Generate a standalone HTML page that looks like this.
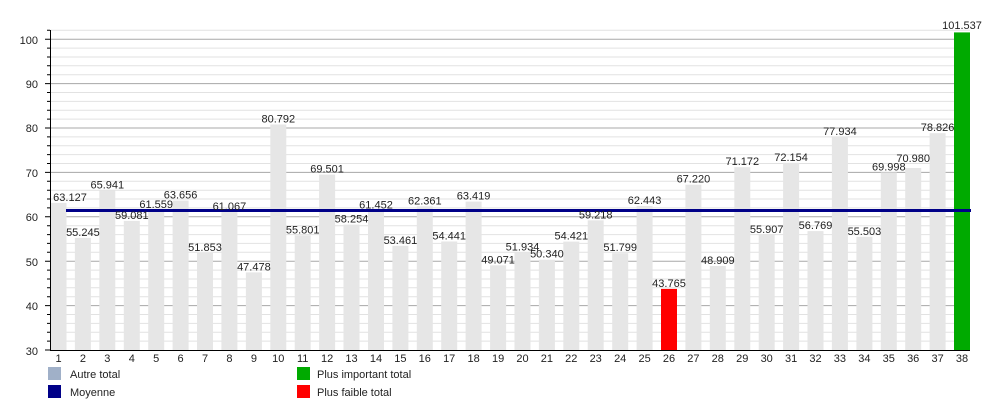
<!DOCTYPE html>
<html><head><meta charset="utf-8"><style>
html,body{margin:0;padding:0;background:#fff}
svg{display:block;font-family:"Liberation Sans",sans-serif}
</style></head><body>
<svg width="1000" height="400" viewBox="0 0 1000 400" xmlns="http://www.w3.org/2000/svg">
<g stroke="#e2e2e2" stroke-width="1" fill="none">
<path d="M50 341.1H970M50 332.2H970M50 323.4H970M50 314.5H970M50 296.7H970M50 287.8H970M50 279H970M50 270.1H970M50 252.3H970M50 243.4H970M50 234.6H970M50 225.7H970M50 207.9H970M50 199H970M50 190.2H970M50 181.3H970M50 163.5H970M50 154.6H970M50 145.8H970M50 136.9H970M50 119.1H970M50 110.2H970M50 101.4H970M50 92.5H970M50 74.7H970M50 65.8H970M50 57H970M50 48.1H970M50 30.3H970"/>
</g>
<g stroke="#a8a8a8" stroke-width="1" fill="none">
<path d="M50 305.6H970M50 261.2H970M50 216.8H970M50 172.4H970M50 128H970M50 83.6H970M50 39.2H970"/>
</g>
<g fill="#e6e6e6">
<rect x="50.5" y="202.9" width="16" height="147.1"/>
<rect x="74.9" y="237.9" width="16" height="112.1"/>
<rect x="99.3" y="190.4" width="16" height="159.6"/>
<rect x="123.8" y="220.9" width="16" height="129.1"/>
<rect x="148.2" y="209.9" width="16" height="140.1"/>
<rect x="172.6" y="200.6" width="16" height="149.4"/>
<rect x="197" y="253" width="16" height="97"/>
<rect x="221.4" y="212.1" width="16" height="137.9"/>
<rect x="245.9" y="272.4" width="16" height="77.6"/>
<rect x="270.3" y="124.5" width="16" height="225.5"/>
<rect x="294.7" y="235.4" width="16" height="114.6"/>
<rect x="319.1" y="174.6" width="16" height="175.4"/>
<rect x="343.5" y="224.6" width="16" height="125.4"/>
<rect x="368" y="210.4" width="16" height="139.6"/>
<rect x="392.4" y="245.8" width="16" height="104.2"/>
<rect x="416.8" y="206.3" width="16" height="143.7"/>
<rect x="441.2" y="241.5" width="16" height="108.5"/>
<rect x="465.6" y="201.6" width="16" height="148.4"/>
<rect x="490.1" y="265.3" width="16" height="84.7"/>
<rect x="514.5" y="252.6" width="16" height="97.4"/>
<rect x="538.9" y="259.7" width="16" height="90.3"/>
<rect x="563.3" y="241.6" width="16" height="108.4"/>
<rect x="587.7" y="220.3" width="16" height="129.7"/>
<rect x="612.2" y="253.2" width="16" height="96.8"/>
<rect x="636.6" y="206" width="16" height="144"/>
<rect x="685.4" y="184.7" width="16" height="165.3"/>
<rect x="709.8" y="266" width="16" height="84"/>
<rect x="734.3" y="167.2" width="16" height="182.8"/>
<rect x="758.7" y="235" width="16" height="115"/>
<rect x="783.1" y="162.8" width="16" height="187.2"/>
<rect x="807.5" y="231.1" width="16" height="118.9"/>
<rect x="831.9" y="137.2" width="16" height="212.8"/>
<rect x="856.4" y="236.8" width="16" height="113.2"/>
<rect x="880.8" y="172.4" width="16" height="177.6"/>
<rect x="905.2" y="168" width="16" height="182"/>
<rect x="929.6" y="133.2" width="16" height="216.8"/>
</g>
<rect x="661" y="288.9" width="16" height="61.1" fill="#ff0000"/>
<rect x="954" y="32.4" width="16" height="317.6" fill="#00aa00"/>
<line x1="66" y1="210.5" x2="971" y2="210.5" stroke="#000088" stroke-width="3"/>
<g stroke="#000" stroke-width="1" fill="none">
<path d="M50.5 30V350.5H970"/>
<path d="M45 305.6H50M45 261.2H50M45 216.8H50M45 172.4H50M45 128H50M45 83.6H50M45 39.2H50M45 350H50"/>
<path d="M47 341.1H50M47 332.2H50M47 323.4H50M47 314.5H50M47 296.7H50M47 287.8H50M47 279H50M47 270.1H50M47 252.3H50M47 243.4H50M47 234.6H50M47 225.7H50M47 207.9H50M47 199H50M47 190.2H50M47 181.3H50M47 163.5H50M47 154.6H50M47 145.8H50M47 136.9H50M47 119.1H50M47 110.2H50M47 101.4H50M47 92.5H50M47 74.7H50M47 65.8H50M47 57H50M47 48.1H50M47 30.3H50"/>
</g>
<g font-size="11" fill="#222" text-anchor="end">
<text x="38" y="355">30</text><text x="38" y="310">40</text><text x="38" y="266">50</text><text x="38" y="221">60</text><text x="38" y="177">70</text><text x="38" y="132">80</text><text x="38" y="88">90</text><text x="38" y="44">100</text>
</g>
<g font-size="11" fill="#222" text-anchor="middle">
<text x="58.5" y="362">1</text><text x="82.9" y="362">2</text><text x="107.3" y="362">3</text><text x="131.8" y="362">4</text><text x="156.2" y="362">5</text><text x="180.6" y="362">6</text><text x="205" y="362">7</text><text x="229.4" y="362">8</text><text x="253.9" y="362">9</text><text x="278.3" y="362">10</text><text x="302.7" y="362">11</text><text x="327.1" y="362">12</text><text x="351.5" y="362">13</text><text x="376" y="362">14</text><text x="400.4" y="362">15</text><text x="424.8" y="362">16</text><text x="449.2" y="362">17</text><text x="473.6" y="362">18</text><text x="498.1" y="362">19</text><text x="522.5" y="362">20</text><text x="546.9" y="362">21</text><text x="571.3" y="362">22</text><text x="595.7" y="362">23</text><text x="620.2" y="362">24</text><text x="644.6" y="362">25</text><text x="669" y="362">26</text><text x="693.4" y="362">27</text><text x="717.8" y="362">28</text><text x="742.3" y="362">29</text><text x="766.7" y="362">30</text><text x="791.1" y="362">31</text><text x="815.5" y="362">32</text><text x="839.9" y="362">33</text><text x="864.4" y="362">34</text><text x="888.8" y="362">35</text><text x="913.2" y="362">36</text><text x="937.6" y="362">37</text><text x="962" y="362">38</text>
</g>
<g font-size="11" fill="#222" text-anchor="middle">
<text x="70" y="200.9">63.127</text>
<text x="82.9" y="235.9">55.245</text>
<text x="107.3" y="188.4">65.941</text>
<text x="131.8" y="218.9">59.081</text>
<text x="156.2" y="207.9">61.559</text>
<text x="180.6" y="198.6">63.656</text>
<text x="205" y="251">51.853</text>
<text x="229.4" y="210.1">61.067</text>
<text x="253.9" y="270.4">47.478</text>
<text x="278.3" y="122.5">80.792</text>
<text x="302.7" y="233.4">55.801</text>
<text x="327.1" y="172.6">69.501</text>
<text x="351.5" y="222.6">58.254</text>
<text x="376" y="208.4">61.452</text>
<text x="400.4" y="243.8">53.461</text>
<text x="424.8" y="204.3">62.361</text>
<text x="449.2" y="239.5">54.441</text>
<text x="473.6" y="199.6">63.419</text>
<text x="498.1" y="263.3">49.071</text>
<text x="522.5" y="250.6">51.934</text>
<text x="546.9" y="257.7">50.340</text>
<text x="571.3" y="239.6">54.421</text>
<text x="595.7" y="218.3">59.218</text>
<text x="620.2" y="251.2">51.799</text>
<text x="644.6" y="204">62.443</text>
<text x="669" y="286.9">43.765</text>
<text x="693.4" y="182.7">67.220</text>
<text x="717.8" y="264">48.909</text>
<text x="742.3" y="165.2">71.172</text>
<text x="766.7" y="233">55.907</text>
<text x="791.1" y="160.8">72.154</text>
<text x="815.5" y="229.1">56.769</text>
<text x="839.9" y="135.2">77.934</text>
<text x="864.4" y="234.8">55.503</text>
<text x="888.8" y="170.4">69.998</text>
<text x="913.2" y="162">70.980</text>
<text x="937.6" y="131.2">78.826</text>
<text x="962" y="29">101.537</text>
</g>
<rect x="48" y="367" width="13" height="13" fill="#a0b0c8"/>
<rect x="48" y="385" width="13" height="13" fill="#000088"/>
<rect x="297" y="367" width="13" height="13" fill="#00aa00"/>
<rect x="297" y="385" width="13" height="13" fill="#ff0000"/>
<g font-size="11" fill="#222">
<text x="70" y="378">Autre total</text>
<text x="70" y="396">Moyenne</text>
<text x="317" y="378">Plus important total</text>
<text x="317" y="396">Plus faible total</text>
</g>
</svg>
</body></html>
